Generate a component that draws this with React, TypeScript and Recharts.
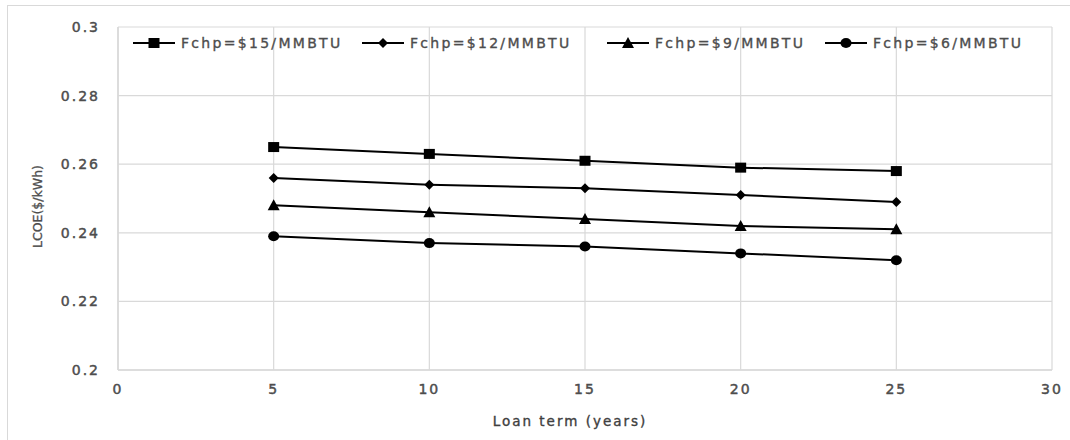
import React from "react"
import {
  LineChart,
  Line,
  XAxis,
  YAxis,
  CartesianGrid,
  Legend,
} from "recharts"

// Loan term in years, and LCOE ($/kWh) for each CHP fuel price
const loanTerms = [5, 10, 15, 20, 25]
const fchp15 = [0.265, 0.263, 0.261, 0.259, 0.258]
const fchp12 = [0.256, 0.254, 0.253, 0.251, 0.249]
const fchp9 = [0.248, 0.246, 0.244, 0.242, 0.241]
const fchp6 = [0.239, 0.237, 0.236, 0.234, 0.232]

const xTicks = [0, 5, 10, 15, 20, 25, 30]
const yTicks = [0.2, 0.22, 0.24, 0.26, 0.28, 0.3]

type Marker = "square" | "diamond" | "triangle" | "circle"

const series: { key: string; name: string; marker: Marker }[] = [
  { key: "f15", name: "Fchp=$15/MMBTU", marker: "square" },
  { key: "f12", name: "Fchp=$12/MMBTU", marker: "diamond" },
  { key: "f9", name: "Fchp=$9/MMBTU", marker: "triangle" },
  { key: "f6", name: "Fchp=$6/MMBTU", marker: "circle" },
]

const data = loanTerms.map((t, i) => ({
  term: t,
  f15: fchp15[i],
  f12: fchp12[i],
  f9: fchp9[i],
  f6: fchp6[i],
}))

const FONT = "'DejaVu Sans', Verdana, sans-serif"
const TEXT = "#4d4d4d"
const GRID = "#d9d9d9"

function markerShape(kind: Marker, cx: number, cy: number, key?: string | number) {
  switch (kind) {
    case "square":
      return <rect key={key} x={cx - 5.5} y={cy - 5} width={11} height={10} fill="#000" />
    case "diamond":
      return (
        <polygon
          key={key}
          points={`${cx},${cy - 5} ${cx + 5},${cy} ${cx},${cy + 5} ${cx - 5},${cy}`}
          fill="#000"
        />
      )
    case "triangle":
      return (
        <polygon
          key={key}
          points={`${cx},${cy - 6} ${cx + 6},${cy + 5} ${cx - 6},${cy + 5}`}
          fill="#000"
        />
      )
    default:
      return <ellipse key={key} cx={cx} cy={cy} rx={5.5} ry={5} fill="#000" />
  }
}

function makeDot(kind: Marker) {
  return (props: any) => {
    const { cx, cy, index } = props
    if (cx == null || cy == null) return <g key={index} />
    return markerShape(kind, cx, cy, index)
  }
}

const legendWidths = [229, 245, 218, 220]

function LegendContent() {
  return (
    <div style={{ display: "flex", alignItems: "center", fontFamily: FONT }}>
      {series.map((s, i) => (
        <div
          key={s.key}
          style={{ display: "flex", alignItems: "center", width: legendWidths[i] }}
        >
          <svg width={44} height={14}>
            <line x1={0} y1={7} x2={42} y2={7} stroke="#000" strokeWidth={2} />
            {markerShape(s.marker, 21, 7)}
          </svg>
          <span
            style={{
              fontSize: 14,
              letterSpacing: 2.3,
              color: TEXT,
              marginLeft: 4,
              whiteSpace: "nowrap",
              WebkitTextStroke: `0.35px ${TEXT}`,
            }}
          >
            {s.name}
          </span>
        </div>
      ))}
    </div>
  )
}

function YLabel(props: any) {
  const { viewBox } = props
  const x = 37
  const y = viewBox.y + viewBox.height / 2 + 8
  return (
    <text
      x={x}
      y={y}
      transform={`rotate(-90, ${x}, ${y})`}
      textAnchor="middle"
      dominantBaseline="central"
      fill={TEXT}
      stroke={TEXT}
      strokeWidth={0.3}
      fontSize={12.5}
      fontFamily={FONT}
    >
      LCOE($/kWh)
    </text>
  )
}

function XLabel(props: any) {
  const { viewBox } = props
  const x = viewBox.x + viewBox.width / 2 - 15
  const y = 421
  return (
    <text
      x={x}
      y={y}
      textAnchor="middle"
      dominantBaseline="central"
      fill="#404040"
      stroke="#404040"
      strokeWidth={0.35}
      fontSize={13.5}
      letterSpacing={2}
      fontFamily={FONT}
    >
      Loan term (years)
    </text>
  )
}

export default function App() {
  const tickStyle = {
    fill: TEXT,
    stroke: TEXT,
    strokeWidth: 0.45,
    fontSize: 14,
    fontFamily: FONT,
    letterSpacing: 2,
  }
  return (
    <div
      style={{
        position: "fixed",
        left: 0,
        top: 0,
        width: 1070,
        height: 440,
        overflow: "hidden",
        background: "#fff",
      }}
    >
      <div
        style={{
          position: "absolute",
          left: 7,
          top: 5,
          width: 1080,
          height: 450,
          border: `1px solid ${GRID}`,
        }}
      />
      <LineChart
        width={1070}
        height={440}
        data={data}
        margin={{ top: 27, right: 18, bottom: 0, left: 0 }}
        style={{ position: "absolute", left: 0, top: 0 }}
      >
        <CartesianGrid stroke={GRID} strokeWidth={1.2} />
        <XAxis
          dataKey="term"
          type="number"
          domain={[0, 30]}
          ticks={xTicks}
          height={70}
          stroke={GRID}
          strokeWidth={1.5}
          tickLine={false}
          tickSize={0}
          tickMargin={14}
          tick={tickStyle}
          label={<XLabel />}
        />
        <YAxis
          type="number"
          domain={[0.2, 0.3]}
          ticks={yTicks}
          width={118}
          stroke={GRID}
          strokeWidth={1.5}
          tickLine={false}
          tickSize={0}
          tickMargin={18}
          tick={tickStyle}
          tickFormatter={(v: number) => String(Number(v.toFixed(2)))}
          label={<YLabel />}
        />
        <Legend
          layout="horizontal"
          verticalAlign="middle"
          align="center"
          wrapperStyle={{ top: 35, left: 133, width: 920 }}
          content={<LegendContent />}
        />
        {series.map((s) => (
          <Line
            key={s.key}
            dataKey={s.key}
            name={s.name}
            stroke="#000"
            strokeWidth={2}
            dot={makeDot(s.marker)}
            activeDot={false}
            isAnimationActive={false}
          />
        ))}
      </LineChart>
    </div>
  )
}
